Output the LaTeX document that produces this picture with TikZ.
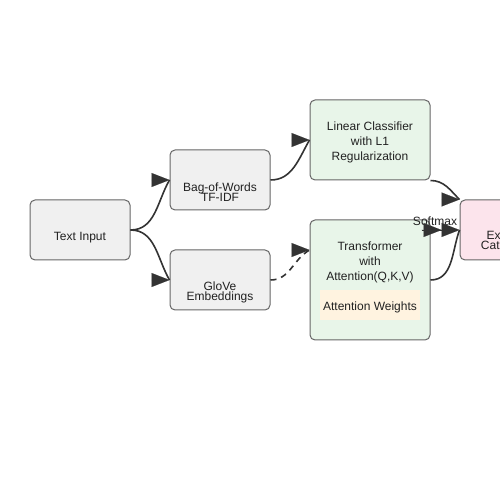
\documentclass[tikz,border=0pt]{standalone}
\usepackage{fontspec}
\setmainfont{Liberation Sans}
\usetikzlibrary{arrows.meta}
\definecolor{boxline}{HTML}{666666}
\definecolor{greyfill}{HTML}{F0F0F0}
\definecolor{greenfill}{HTML}{E8F5E9}
\definecolor{pinkfill}{HTML}{FCE4EC}
\definecolor{orangefill}{HTML}{FFF3E0}
\definecolor{flowcol}{HTML}{333333}
\newcommand{\tightfont}{\fontsize{12}{10}\selectfont\lineskiplimit=-100pt\relax}
\tikzstyle{box}=[draw=boxline,line width=1pt,rounded corners=5pt,inner sep=0pt]
\tikzstyle{greybox}=[box,fill=greyfill,minimum width=100pt,minimum height=60pt]
\tikzstyle{greenbox}=[box,fill=greenfill,minimum width=120pt]
\tikzstyle{pinkbox}=[box,fill=pinkfill,minimum width=100pt,minimum height=60pt]
\tikzstyle{lbl}=[font=\fontsize{12}{15}\selectfont,text=black!87,align=center,inner sep=0pt]
\tikzstyle{tightlbl}=[lbl,font=\tightfont]
\tikzstyle{flow}=[draw=flowcol,line width=1.6pt]
\tikzstyle{head}=[draw=flowcol,fill=flowcol,line width=0.1pt,-{Triangle[length=18pt,width=14pt]}]
\tikzstyle{twohead}=[head,-{Triangle[length=18pt,width=14pt]Triangle[length=18pt,width=14pt]}]

\begin{document}
\begin{tikzpicture}[x=1pt,y=1pt]
	\clip (0,0) rectangle (500,500);
	\fill[white] (0,0) rectangle (500,500);
	\node[greybox] (txt) at (80,270) {};
	\node[greybox] (bow) at (220,320) {};
	\node[greybox] (glove) at (220,220) {};
	\node[greenbox,minimum height=80pt] (lin) at (370,360) {};
	\node[greenbox,minimum height=120pt] (trans) at (370,220) {};
	\node[fill=orangefill,minimum width=100pt,minimum height=30pt,inner sep=0pt] (attn) at (370,195) {};
	\node[pinkbox] (out) at (510,270) {};
	\node[lbl] (txtlbl) at (80,262.5) {Text Input};
	\node[tightlbl] (bowlbl) at (220,308) {Bag-of-Words\\TF-IDF};
	\node[tightlbl] (glovelbl) at (220,208) {GloVe\\Embeddings};
	\node[lbl] (linlbl) at (370,358) {Linear Classifier\\with L1\\Regularization};
	\node[lbl] (translbl) at (370,238) {Transformer\\with\\Attention(Q,K,V)};
	\node[lbl] (attnlbl) at (370,193) {Attention Weights};
	\node[tightlbl] (outlbl) at (510,258) {Expense\\Categories};
	\node[lbl] (softmax) at (435,279) {Softmax};
	\coordinate (transin) at ([yshift=30pt]trans.west);

	\draw[flow] (txt.east) to[out=0,in=240] (bow.west);
	\draw[head] ([xshift=-18pt]bow.west) -- (bow.west);
	\draw[flow] (txt.east) to[out=0,in=120] (glove.west);
	\draw[head] ([xshift=-18pt]glove.west) -- (glove.west);
	\draw[flow] (bow.east) to[out=0,in=240] (lin.west);
	\draw[head] ([xshift=-18pt]lin.west) -- (lin.west);
	\draw[flow,dash pattern=on 6pt off 5pt] (glove.east) to[out=0,in=210] (transin);
	\draw[head] ([xshift=-18pt]transin) -- (transin);
	\draw[flow] (lin.south east) to[out=0,in=135] (out.north west);
	\draw[head] ([xshift=-18pt]out.north west) -- (out.north west);
	\draw[flow] (trans.east) to[out=0,in=250] (out.west);
	\draw[twohead] ([xshift=-38pt]out.west) -- (out.west);
\end{tikzpicture}
\end{document}
